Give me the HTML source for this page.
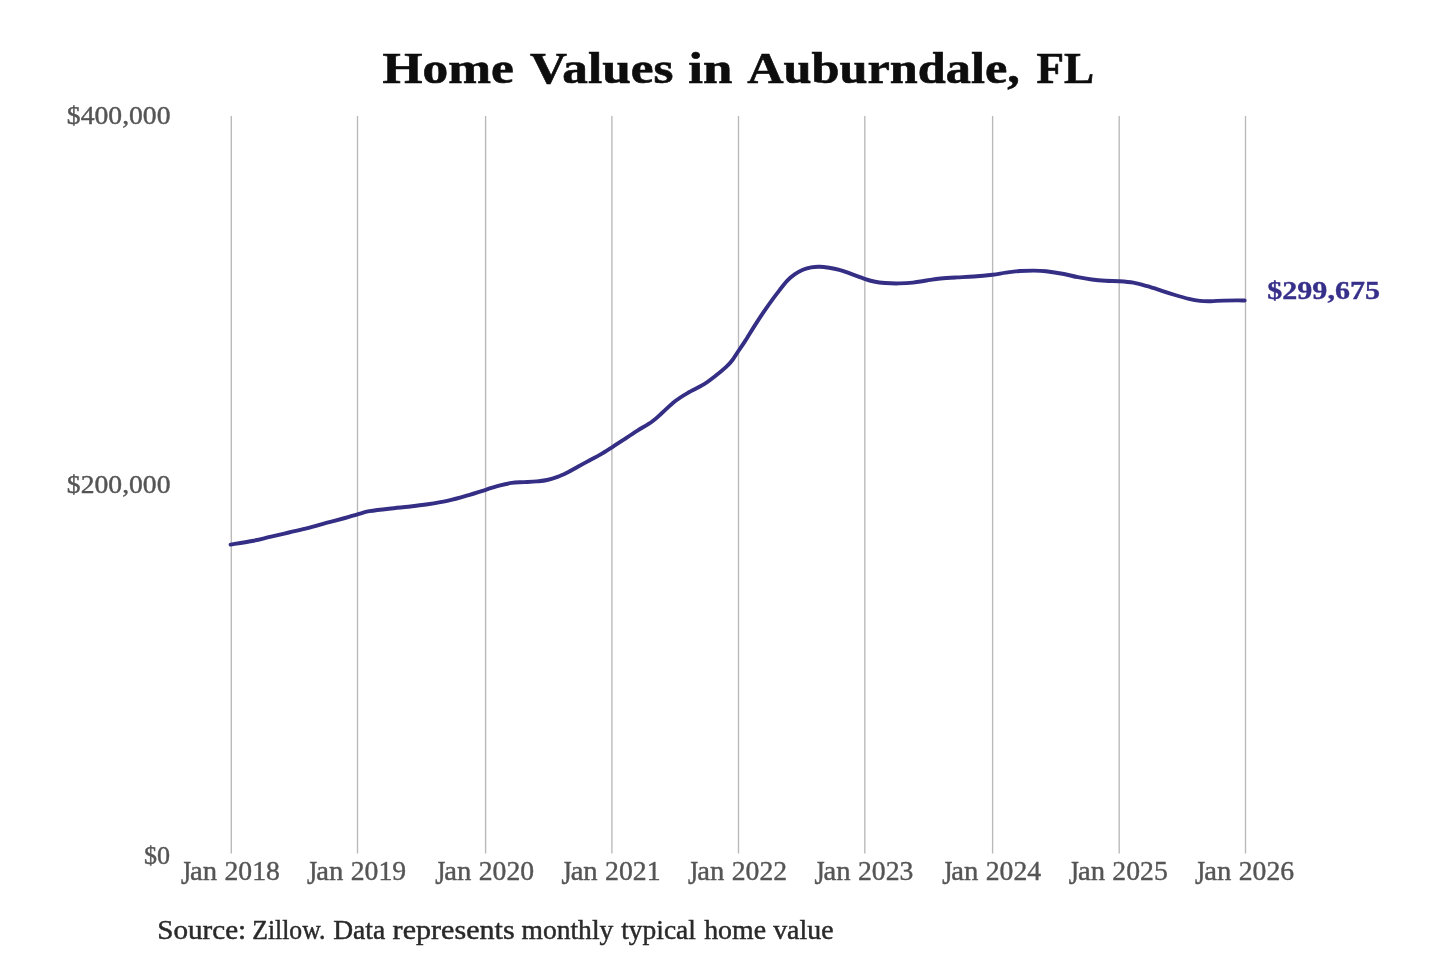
<!DOCTYPE html>
<html><head><meta charset="utf-8"><title>Home Values in Auburndale, FL</title>
<style>
html,body{margin:0;padding:0;background:#fff;}
body{width:1440px;height:960px;overflow:hidden;font-family:"Liberation Serif",serif;}
svg{display:block;will-change:transform;}
text{font-family:"Liberation Serif",serif;}
.grid line{stroke:#b8b8b8;stroke-width:1.35;}
.ax{font-size:24.4px;fill:#555;stroke:#555;stroke-width:0.4px;}
.xl{font-size:26.8px;}
.src{font-size:26.6px;fill:#2a2a2a;stroke:#2a2a2a;stroke-width:0.45px;}
.ttl{font-size:44.3px;font-weight:bold;fill:#0d0d0d;stroke:#0d0d0d;stroke-width:0.6px;}
.end{font-size:25.2px;font-weight:bold;fill:#37308a;stroke:#37308a;stroke-width:0.35px;}
</style></head>
<body>
<svg width="1440" height="960" viewBox="0 0 1440 960">
<g class="grid">
<line x1="231.3" y1="116.0" x2="231.3" y2="853.5"/>
<line x1="357.5" y1="116.0" x2="357.5" y2="853.5"/>
<line x1="485.6" y1="116.0" x2="485.6" y2="853.5"/>
<line x1="611.9" y1="116.0" x2="611.9" y2="853.5"/>
<line x1="738.5" y1="116.0" x2="738.5" y2="853.5"/>
<line x1="864.8" y1="116.0" x2="864.8" y2="853.5"/>
<line x1="992.6" y1="116.0" x2="992.6" y2="853.5"/>
<line x1="1119.2" y1="116.0" x2="1119.2" y2="853.5"/>
<line x1="1245.5" y1="116.0" x2="1245.5" y2="853.5"/>
</g>
<path d="M230.6,544.6 C234.2,544.0 245.5,542.3 252.1,541.0 C258.7,539.7 263.9,538.3 270.0,536.9 C276.1,535.5 282.5,534.0 288.8,532.5 C295.0,531.0 301.2,529.8 307.5,528.2 C313.8,526.6 320.0,524.6 326.2,522.9 C332.5,521.2 339.8,519.4 345.0,518.0 C350.2,516.6 353.4,515.4 357.5,514.3 C361.6,513.2 364.2,512.1 369.4,511.2 C374.6,510.3 382.4,509.4 388.9,508.7 C395.4,507.9 401.8,507.4 408.3,506.7 C414.8,506.0 421.3,505.3 427.8,504.3 C434.3,503.3 440.7,502.3 447.2,500.9 C453.7,499.4 460.3,497.5 466.7,495.6 C473.1,493.8 480.2,491.5 485.6,489.8 C491.0,488.1 494.9,486.9 499.2,485.7 C503.5,484.5 507.5,483.5 511.7,482.9 C515.9,482.3 520.0,482.4 524.2,482.1 C528.4,481.9 532.9,481.8 536.7,481.4 C540.5,481.0 543.6,480.8 547.1,480.0 C550.6,479.2 554.0,478.2 557.5,476.9 C561.0,475.6 564.4,473.9 567.9,472.2 C571.4,470.5 574.6,468.5 578.3,466.5 C581.9,464.5 586.1,462.2 589.8,460.2 C593.4,458.2 596.5,456.8 600.2,454.6 C603.9,452.5 607.9,449.9 612.0,447.3 C616.1,444.7 620.8,441.5 625.0,438.8 C629.2,436.0 632.9,433.5 637.5,430.6 C642.1,427.7 648.3,424.3 652.5,421.2 C656.7,418.2 658.8,415.8 662.5,412.5 C666.2,409.2 670.8,404.5 675.0,401.2 C679.2,398.0 682.7,395.9 687.5,393.1 C692.3,390.3 699.2,387.2 703.8,384.4 C708.3,381.6 711.2,379.2 715.0,376.2 C718.8,373.3 723.3,369.6 726.2,366.9 C729.2,364.2 730.5,362.6 732.5,360.0 C734.5,357.4 736.2,354.2 738.4,351.0 C740.5,347.8 742.5,345.2 745.4,340.6 C748.3,336.0 752.5,329.1 756.0,323.6 C759.5,318.2 763.0,312.9 766.5,307.9 C770.0,302.9 773.4,298.1 776.9,293.6 C780.4,289.1 784.3,283.9 787.3,280.7 C790.2,277.5 792.0,276.2 794.6,274.4 C797.2,272.6 800.1,271.0 802.9,269.8 C805.7,268.6 808.5,267.8 811.2,267.3 C814.0,266.8 816.6,266.6 819.6,266.7 C822.6,266.8 825.7,267.2 829.0,267.7 C832.3,268.2 835.9,268.9 839.4,269.9 C842.9,270.8 845.6,271.9 849.8,273.4 C854.0,274.9 860.6,277.4 864.6,278.8 C868.6,280.2 870.5,280.8 873.9,281.5 C877.3,282.2 880.8,282.7 885.0,283.0 C889.2,283.3 894.3,283.5 898.9,283.4 C903.5,283.3 908.2,283.1 912.8,282.6 C917.4,282.1 922.1,281.2 926.7,280.5 C931.3,279.8 935.5,279.0 940.6,278.5 C945.7,278.0 951.7,277.7 957.2,277.4 C962.8,277.1 968.0,276.9 973.9,276.5 C979.8,276.1 987.3,275.4 992.6,274.8 C997.9,274.2 1001.3,273.2 1005.8,272.6 C1010.3,272.0 1015.1,271.3 1019.7,271.0 C1024.3,270.7 1029.2,270.6 1033.6,270.6 C1038.0,270.6 1041.0,270.6 1046.1,271.2 C1051.1,271.8 1058.6,273.0 1063.9,274.0 C1069.2,275.0 1073.2,276.3 1077.8,277.2 C1082.4,278.1 1087.1,278.9 1091.7,279.5 C1096.3,280.1 1101.0,280.5 1105.6,280.8 C1110.1,281.1 1114.4,280.9 1119.0,281.2 C1123.6,281.5 1128.6,281.8 1133.3,282.6 C1138.0,283.4 1142.6,284.9 1147.2,286.2 C1151.8,287.5 1156.5,289.1 1161.1,290.6 C1165.7,292.1 1170.4,293.6 1175.0,295.0 C1179.6,296.4 1184.7,297.9 1188.9,298.9 C1193.1,299.9 1196.3,300.5 1200.0,300.9 C1203.7,301.3 1207.2,301.2 1211.1,301.2 C1215.0,301.1 1219.2,300.7 1223.6,300.6 C1228.0,300.5 1234.0,300.4 1237.5,300.4 C1241.0,300.4 1243.5,300.5 1244.7,300.5" fill="none" stroke="#342e84" stroke-width="3.9" stroke-linecap="round" stroke-linejoin="round"/>
<text class="ttl" transform="translate(382.59,83.00) scale(1.1599,1)">Home</text>
<text class="ttl" transform="translate(530.00,83.00) scale(1.1585,1)">Values</text>
<text class="ttl" transform="translate(688.31,83.00) scale(1.1929,1)">in</text>
<text class="ttl" transform="translate(747.25,83.00) scale(1.1360,1)">Auburndale,</text>
<text class="ttl" transform="translate(1036.48,83.00) scale(1.0185,1)">FL</text>
<text class="src" transform="translate(157.31,939.20) scale(1.0942,1)">Source:</text>
<text class="src" transform="translate(252.28,939.20) scale(0.9658,1)">Zillow.</text>
<text class="src" transform="translate(333.21,939.20) scale(1.0357,1)">Data</text>
<text class="src" transform="translate(392.62,939.20) scale(1.1321,1)">represents</text>
<text class="src" transform="translate(521.46,939.20) scale(1.0369,1)">monthly</text>
<text class="src" transform="translate(621.25,939.20) scale(1.0312,1)">typical</text>
<text class="src" transform="translate(704.20,939.20) scale(1.0466,1)">home</text>
<text class="src" transform="translate(773.20,939.20) scale(1.0474,1)">value</text>
<text class="ax" transform="translate(66.87,124.00) scale(1.1333,1)">$400,000</text>
<text class="ax" transform="translate(66.87,492.60) scale(1.1333,1)">$200,000</text>
<text class="ax" transform="translate(143.93,863.70) scale(1.0696,1)">$0</text>
<text class="end" transform="translate(1267.31,298.70) scale(1.1925,1)">$299,675</text>
<text class="ax xl" transform="translate(180.90,884.40) scale(0.9700,1.2333)">J</text>
<text class="ax xl" transform="translate(190.03,879.50) scale(1.0708,1)">an</text>
<text class="ax xl" transform="translate(224.47,879.50) scale(1.0346,1)">2018</text>
<text class="ax xl" transform="translate(307.10,884.40) scale(0.9700,1.2333)">J</text>
<text class="ax xl" transform="translate(316.23,879.50) scale(1.0708,1)">an</text>
<text class="ax xl" transform="translate(350.67,879.50) scale(1.0346,1)">2019</text>
<text class="ax xl" transform="translate(435.20,884.40) scale(0.9700,1.2333)">J</text>
<text class="ax xl" transform="translate(444.33,879.50) scale(1.0708,1)">an</text>
<text class="ax xl" transform="translate(478.77,879.50) scale(1.0346,1)">2020</text>
<text class="ax xl" transform="translate(561.50,884.40) scale(0.9700,1.2333)">J</text>
<text class="ax xl" transform="translate(570.63,879.50) scale(1.0708,1)">an</text>
<text class="ax xl" transform="translate(605.07,879.50) scale(1.0346,1)">2021</text>
<text class="ax xl" transform="translate(688.10,884.40) scale(0.9700,1.2333)">J</text>
<text class="ax xl" transform="translate(697.23,879.50) scale(1.0708,1)">an</text>
<text class="ax xl" transform="translate(731.67,879.50) scale(1.0346,1)">2022</text>
<text class="ax xl" transform="translate(814.40,884.40) scale(0.9700,1.2333)">J</text>
<text class="ax xl" transform="translate(823.53,879.50) scale(1.0708,1)">an</text>
<text class="ax xl" transform="translate(857.97,879.50) scale(1.0346,1)">2023</text>
<text class="ax xl" transform="translate(942.20,884.40) scale(0.9700,1.2333)">J</text>
<text class="ax xl" transform="translate(951.33,879.50) scale(1.0708,1)">an</text>
<text class="ax xl" transform="translate(985.77,879.50) scale(1.0346,1)">2024</text>
<text class="ax xl" transform="translate(1068.80,884.40) scale(0.9700,1.2333)">J</text>
<text class="ax xl" transform="translate(1077.93,879.50) scale(1.0708,1)">an</text>
<text class="ax xl" transform="translate(1112.37,879.50) scale(1.0346,1)">2025</text>
<text class="ax xl" transform="translate(1195.10,884.40) scale(0.9700,1.2333)">J</text>
<text class="ax xl" transform="translate(1204.23,879.50) scale(1.0708,1)">an</text>
<text class="ax xl" transform="translate(1238.67,879.50) scale(1.0346,1)">2026</text>
</svg>
</body></html>
